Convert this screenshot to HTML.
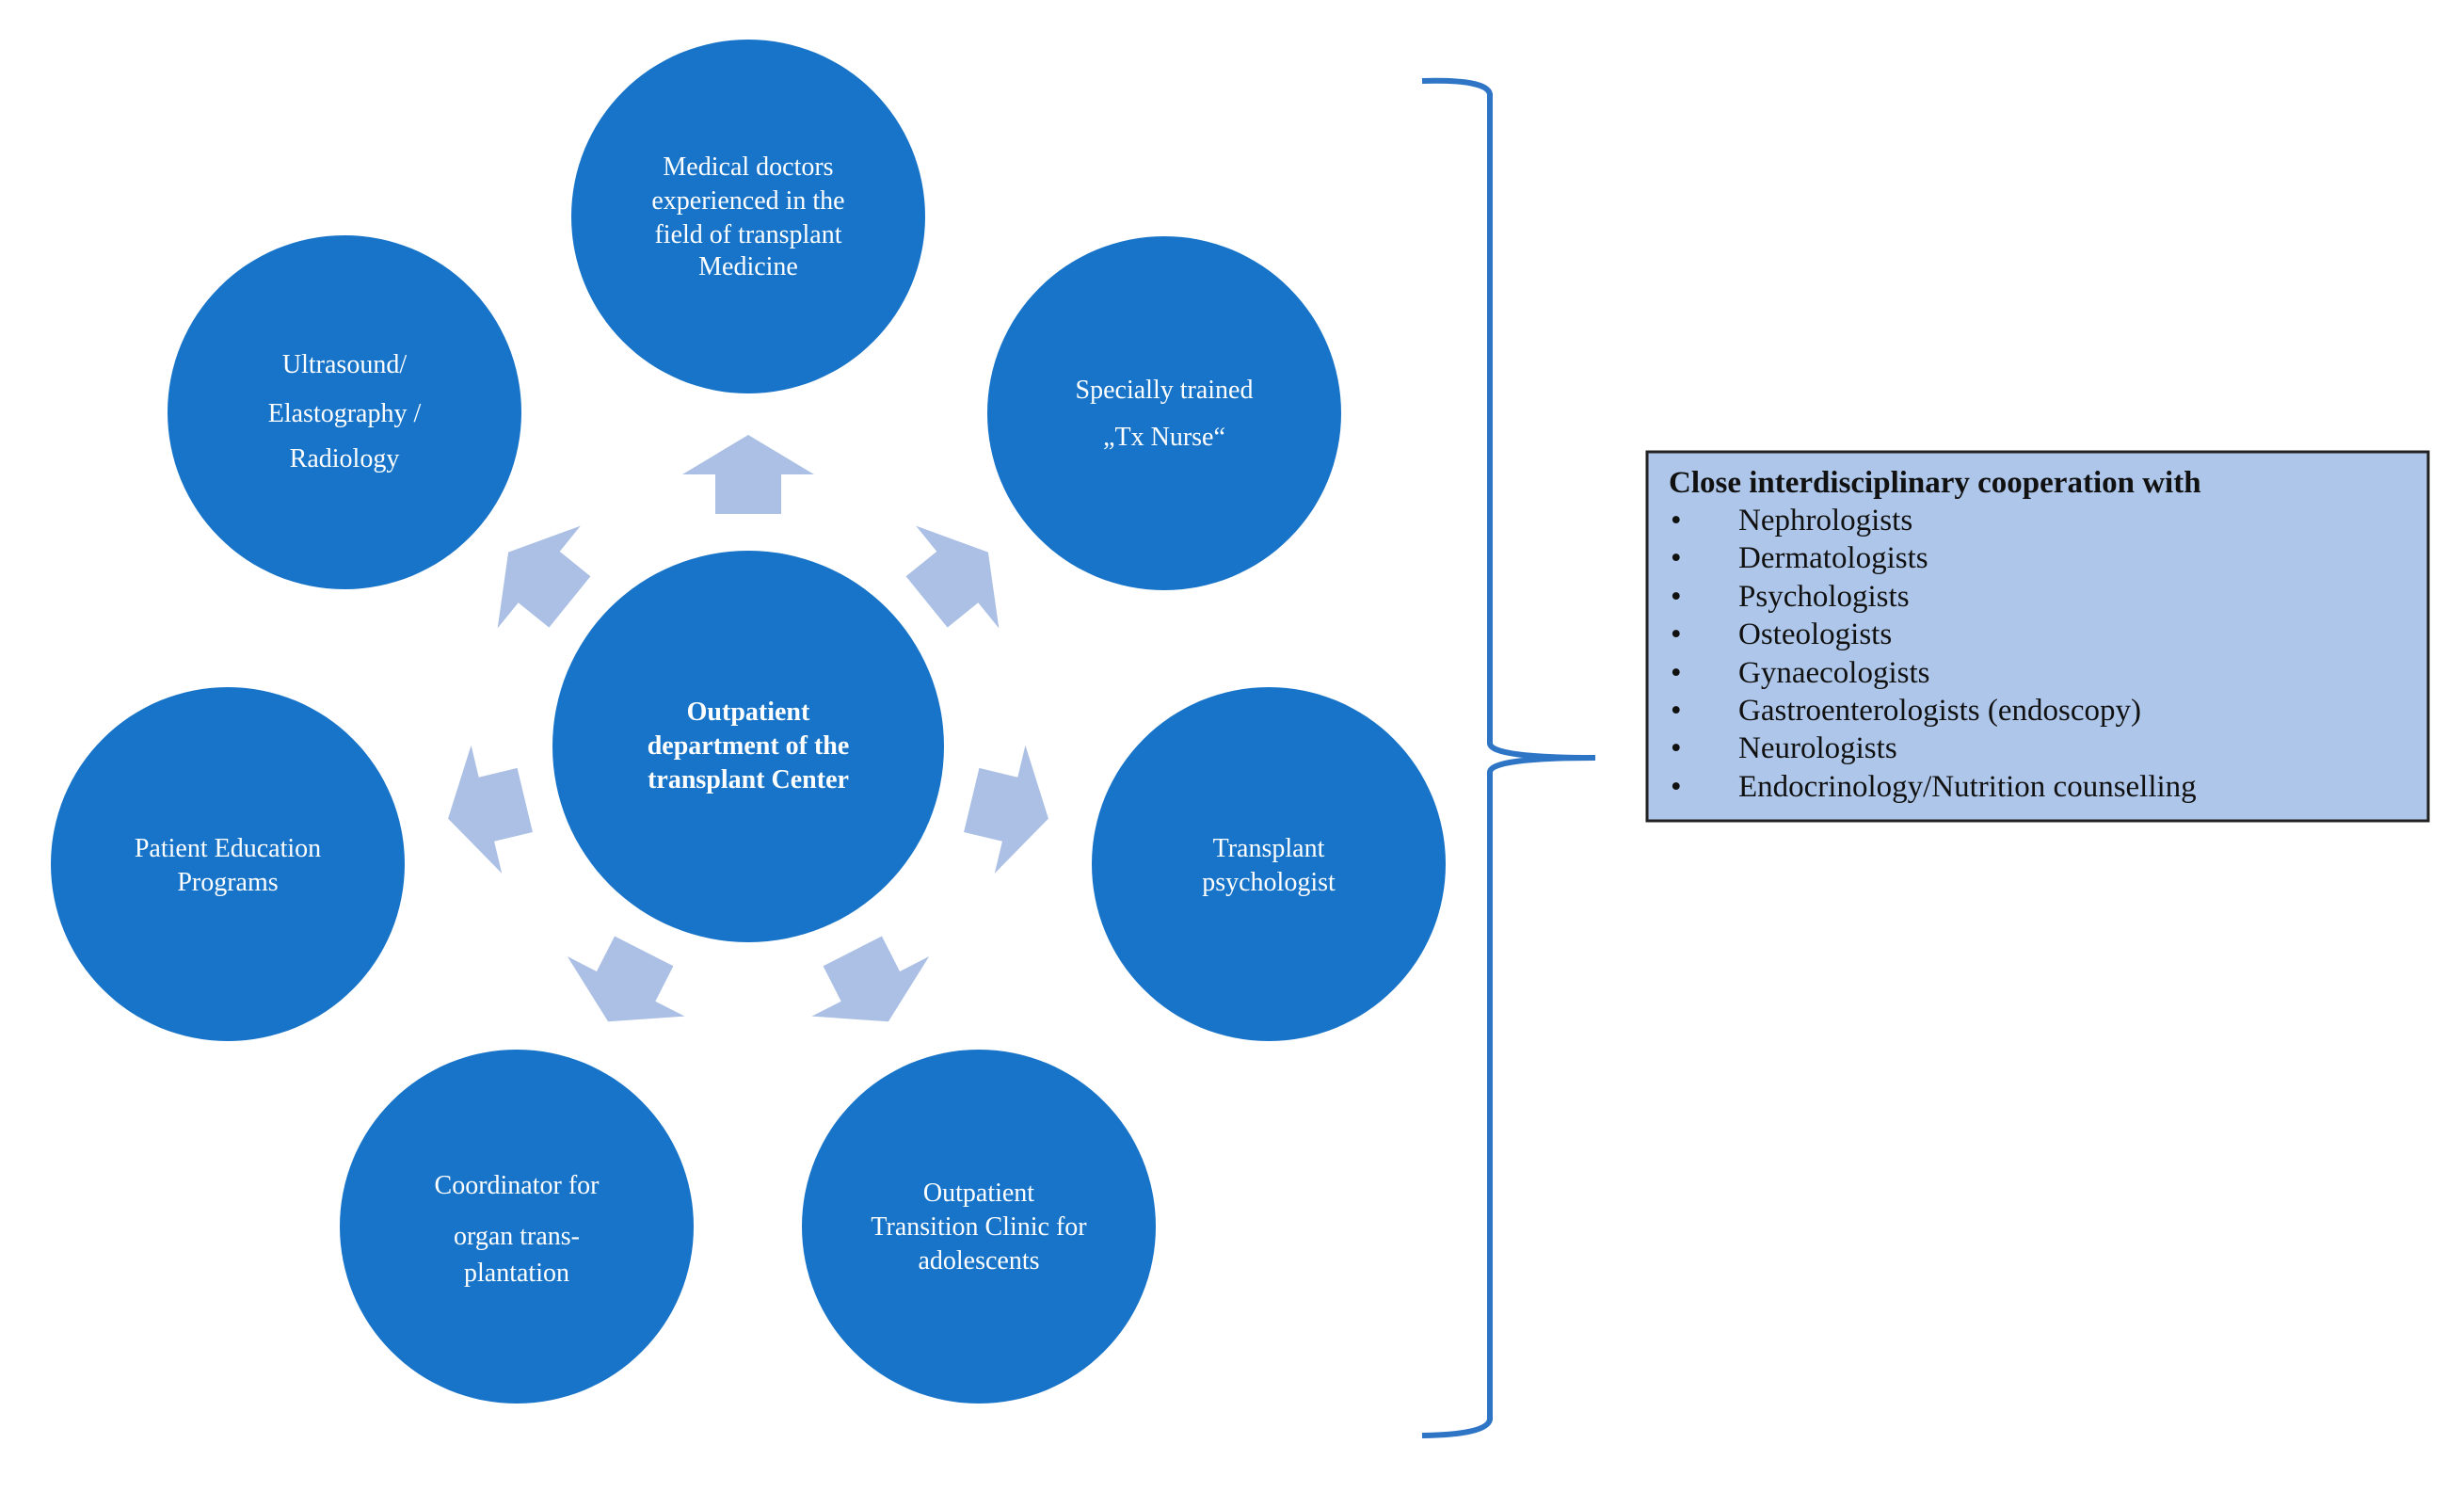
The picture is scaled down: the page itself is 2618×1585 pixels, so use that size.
<!DOCTYPE html>
<html><head><meta charset="utf-8"><style>
html,body{margin:0;padding:0;background:#fff;}
svg text{font-family:"Liberation Serif",serif;}
</style></head><body>
<svg width="2618" height="1580" viewBox="0 0 2618 1580" xmlns="http://www.w3.org/2000/svg">
<defs>
<path id="arr" d="M-70,-42 L0,-84 L70,-42 L35,-42 L35,0 L-35,0 L-35,-42 Z"/>
</defs>
<g fill="#1874c8">
<circle cx="795" cy="230" r="188"/>
<circle cx="366" cy="438" r="188"/>
<circle cx="1237" cy="439" r="188"/>
<circle cx="795" cy="793" r="208"/>
<circle cx="242" cy="918" r="188"/>
<circle cx="1348" cy="918" r="188"/>
<circle cx="549" cy="1303" r="188"/>
<circle cx="1040" cy="1303" r="188"/>
</g>
<g fill="#abc0e4" transform="translate(795,793)">
<use href="#arr" transform="rotate(0) translate(0,-247)"/>
<use href="#arr" transform="rotate(51) translate(0,-244)"/>
<use href="#arr" transform="rotate(103.5) translate(0,-244)"/>
<use href="#arr" transform="rotate(153) translate(0,-244)"/>
<use href="#arr" transform="rotate(-153) translate(0,-244)"/>
<use href="#arr" transform="rotate(-103.5) translate(0,-244)"/>
<use href="#arr" transform="rotate(-51) translate(0,-244)"/>
</g>
<g fill="#fff" font-size="28" text-anchor="middle">
<text x="795" y="186">Medical doctors</text>
<text x="795" y="222">experienced in the</text>
<text x="795" y="258">field of transplant</text>
<text x="795" y="292">Medicine</text>
<text x="366" y="396">Ultrasound/</text>
<text x="366" y="448">Elastography /</text>
<text x="366" y="496">Radiology</text>
<text x="1237" y="423">Specially trained</text>
<text x="1237" y="473">„Tx Nurse“</text>
<text x="795" y="765" font-weight="bold">Outpatient</text>
<text x="795" y="801" font-weight="bold">department of the</text>
<text x="795" y="837" font-weight="bold">transplant Center</text>
<text x="242" y="910">Patient Education</text>
<text x="242" y="946">Programs</text>
<text x="1348" y="910">Transplant</text>
<text x="1348" y="946">psychologist</text>
<text x="549" y="1268">Coordinator  for</text>
<text x="549" y="1322">organ trans-</text>
<text x="549" y="1361">plantation</text>
<text x="1040" y="1276">Outpatient</text>
<text x="1040" y="1312">Transition Clinic for</text>
<text x="1040" y="1348">adolescents</text>
</g>
<path d="M1511,86 Q1580,84 1583,100 L1583,790 Q1585,805 1695,805 Q1585,805 1583,820 L1583,1508 Q1580,1524 1511,1525" fill="none" stroke="#2e75c6" stroke-width="6"/>
<rect x="1750" y="480" width="830" height="392" fill="#adc6e9" stroke="#222" stroke-width="3"/>
<g fill="#111" font-size="33">
<text x="1773" y="523" font-weight="bold">Close interdisciplinary cooperation with</text>
<g>
<text x="1775" y="563">•</text><text x="1847" y="563">Nephrologists</text>
<text x="1775" y="603">•</text><text x="1847" y="603">Dermatologists</text>
<text x="1775" y="644">•</text><text x="1847" y="644">Psychologists</text>
<text x="1775" y="684">•</text><text x="1847" y="684">Osteologists</text>
<text x="1775" y="725">•</text><text x="1847" y="725">Gynaecologists</text>
<text x="1775" y="765">•</text><text x="1847" y="765">Gastroenterologists (endoscopy)</text>
<text x="1775" y="805">•</text><text x="1847" y="805">Neurologists</text>
<text x="1775" y="846">•</text><text x="1847" y="846">Endocrinology/Nutrition counselling</text>
</g>
</g>
</svg>
</body></html>
